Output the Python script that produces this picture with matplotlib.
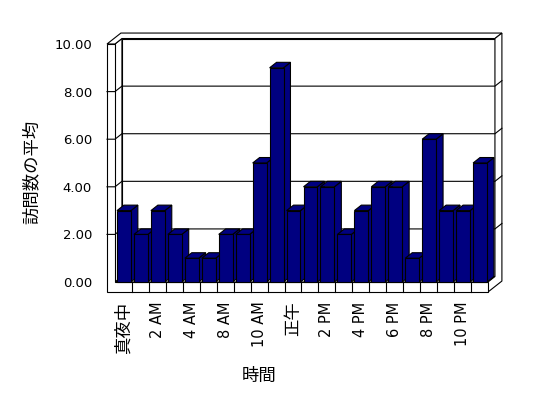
import matplotlib
matplotlib.use('Agg')
import matplotlib.pyplot as plt
from matplotlib.patches import Polygon

# ---- data ----
categories = ['真夜中', '1 AM', '2 AM', '3 AM', '4 AM', '7 AM', '8 AM', '9 AM',
              '10 AM', '11 AM', '正午', '1 PM', '2 PM', '3 PM', '4 PM', '5 PM',
              '6 PM', '7 PM', '8 PM', '9 PM', '10 PM', '11 PM']
values = [3, 2, 3, 2, 1, 1, 2, 2, 5, 9, 3, 4, 4, 2, 3, 4, 4, 1, 6, 3, 3, 5]
yticks = [0, 2, 4, 6, 8, 10]
ytick_labels = ['0.00', '2.00', '4.00', '6.00', '8.00', '10.00']
xlabel = '時間'
ylabel = '訪問数の平均'

plt.rcParams['font.family'] = ['DejaVu Sans', 'Noto Sans CJK JP']

W_PX, H_PX = 548, 398
fig = plt.figure(figsize=(W_PX / 100, H_PX / 100), dpi=100)
fig.patch.set_facecolor('white')

# axes frame in pixels (front plane)
L, R, T, B = 107, 488, 44, 292
ax = fig.add_axes([L / W_PX, 1 - B / H_PX, (R - L) / W_PX, (B - T) / H_PX])

N = len(values)
WALL = 0.47      # wall thickness (category units)
FLOOR = 0.42     # floor thickness (value units)
DX, DY = 0.41, 0.23   # depth offset
YMAX = 10
ax.set_xlim(-WALL, N)
ax.set_ylim(-FLOOR, YMAX)
for s in ax.spines.values():
    s.set_visible(False)
ax.patch.set_visible(False)

lw = 0.8
def poly(pts, fc, z):
    ax.add_patch(Polygon(pts, closed=True, facecolor=fc, edgecolor='black',
                         linewidth=lw, zorder=z, clip_on=False, joinstyle='miter'))

# walls / floor
poly([(DX, DY), (N + DX, DY), (N + DX, YMAX + DY), (DX, YMAX + DY)], 'white', 1)   # back wall
poly([(0, 0), (N, 0), (N + DX, DY), (DX, DY)], 'white', 1)                           # floor top
poly([(0, 0), (DX, DY), (DX, YMAX + DY), (0, YMAX)], 'white', 1)                     # left wall inner
poly([(-WALL, YMAX), (-WALL + 2 * DX, YMAX + 2 * DY), (N + 2 * DX, YMAX + 2 * DY),
      (N + DX, YMAX + DY), (DX, YMAX + DY), (0, YMAX)], 'white', 1)                  # top edges
poly([(N, -FLOOR), (N + 2 * DX, -FLOOR + 2 * DY), (N + 2 * DX, YMAX + 2 * DY),
      (N + DX, YMAX + DY), (N + DX, DY), (N, 0)], 'white', 1)                        # right end
poly([(-WALL, -FLOOR), (N, -FLOOR), (N, 0), (0, 0), (0, YMAX), (-WALL, YMAX)], 'white', 1)  # front faces

# gridlines
for v in yticks[1:-1]:
    ax.plot([-WALL, 0, DX, N + DX, N + 2 * DX], [v, v, v + DY, v + DY, v + 2 * DY],
            color='black', lw=lw, zorder=1.5, clip_on=False, solid_joinstyle='miter')
# floor front dividers
for k in range(1, N):
    ax.plot([k, k], [-FLOOR, 0], color='black', lw=lw, zorder=1.5, clip_on=False)

# bars
BL, BR = 0.12, 0.94
navy = '#000080'
for i, v in enumerate(values):
    x0, x1 = i + BL, i + BR
    z = 2 + i * 0.01
    poly([(x1, 0), (x1 + DX, DY), (x1 + DX, v + DY), (x1, v)], navy, z)
    poly([(x0, v), (x1, v), (x1 + DX, v + DY), (x0 + DX, v + DY)], navy, z)
    poly([(x0, 0), (x1, 0), (x1, v), (x0, v)], navy, z)

# ticks
ax.set_yticks(yticks)
ax.set_yticklabels(ytick_labels)
ax.tick_params(axis='y', length=0, pad=10.8, labelsize=9.5)
xt = list(range(0, N, 2))
ax.set_xticks([i + 0.5 for i in xt])
ax.set_xticklabels([categories[i] for i in xt], rotation=90)
ax.tick_params(axis='x', length=0, pad=7.0, labelsize=10.5)
for lab in ax.get_xticklabels():
    if any(ord(c) > 0x3000 for c in lab.get_text()):
        lab.set_fontfamily('Noto Sans CJK JP')
        lab.set_fontsize(12.5)

fig.text(32 / W_PX, 1 - 172 / H_PX, ylabel, rotation=90, ha='center', va='center',
         fontsize=12.5, family='Noto Sans CJK JP')
fig.text(259.5 / W_PX, 1 - 375.5 / H_PX, xlabel, ha='center', va='center',
         fontsize=12.5, family='Noto Sans CJK JP')

fig.savefig('out.png', dpi=100, facecolor='white')
